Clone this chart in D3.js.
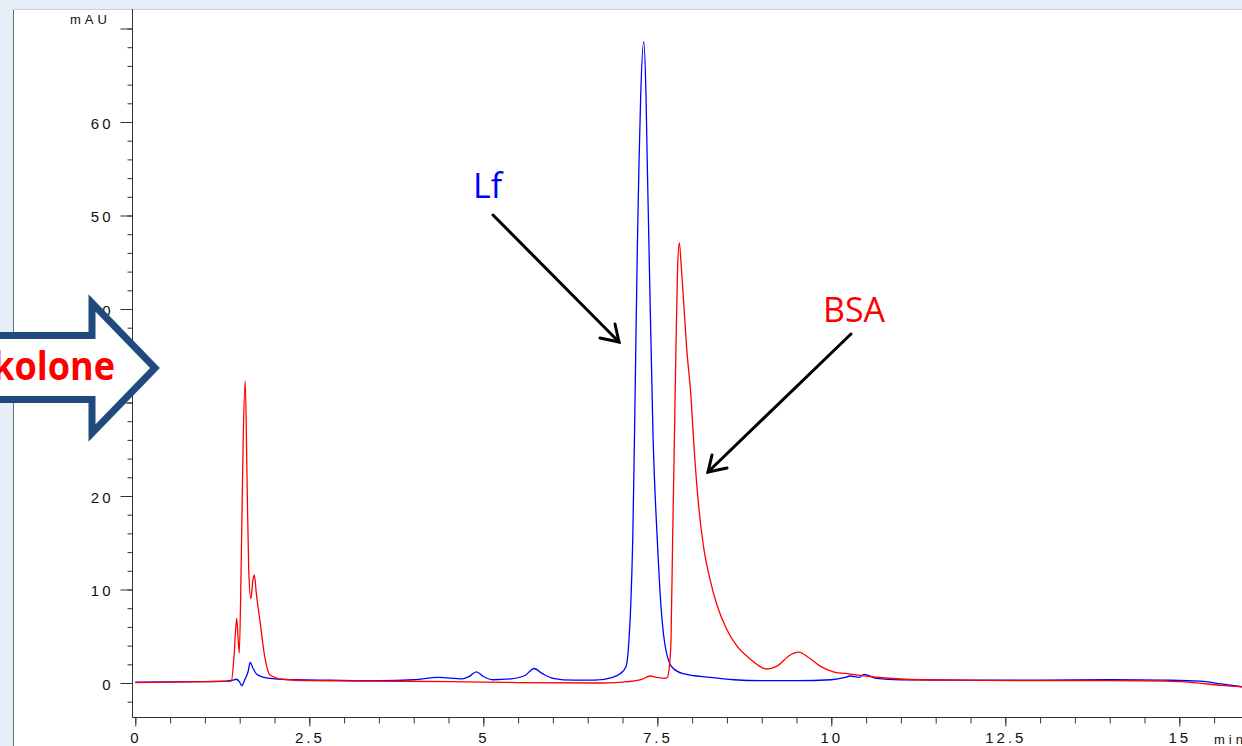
<!DOCTYPE html>
<html>
<head>
<meta charset="utf-8">
<script src="https://cdn.jsdelivr.net/npm/d3@7/dist/d3.min.js"></script>
<style>
  html, body { margin: 0; padding: 0; background: #e6eef8; overflow: hidden; }
  svg { display: block; }
</style>
</head>
<body>
<svg id="chart" width="1242" height="746"></svg>
<script>
// ---------------- DATA ----------------
const blueTime = [0, 0.5, 1.0, 1.3, 1.4, 1.45, 1.5, 1.53, 1.57, 1.62, 1.65, 1.69, 1.75, 1.85, 2.0, 2.3, 2.8, 3.5, 4.0, 4.35, 4.7, 4.8, 4.9, 5.0, 5.15, 5.4, 5.6, 5.73, 5.85, 6.0, 6.3, 6.6, 6.86, 6.96, 7.05, 7.093, 7.118, 7.147, 7.17, 7.213, 7.237, 7.261, 7.305, 7.338, 7.356, 7.381, 7.44, 7.5, 7.553, 7.6, 7.707, 7.87, 8.26, 8.6, 9.0, 9.5, 10.0, 10.2, 10.27, 10.4, 10.47, 10.65, 11.0, 12.0, 13.0, 14.0, 14.8, 15.3, 15.6, 15.9];
const blueValue = [0.1, 0.12, 0.15, 0.2, 0.3, 0.4, 0.1, -0.3, 0.3, 1.2, 2.2, 1.6, 0.9, 0.6, 0.45, 0.35, 0.3, 0.25, 0.35, 0.6, 0.45, 0.7, 1.2, 0.7, 0.35, 0.45, 0.8, 1.55, 1.0, 0.5, 0.3, 0.3, 0.6, 0.95, 1.74, 4.6, 8.2, 15.3, 25.3, 46.5, 55.6, 62.7, 68.6, 62.7, 55.6, 46.5, 26, 15.3, 8.2, 4.6, 1.74, 1.0, 0.6, 0.35, 0.25, 0.25, 0.35, 0.6, 0.75, 0.6, 0.93, 0.5, 0.35, 0.3, 0.3, 0.35, 0.3, 0.2, -0.1, -0.4];

const redTime = [0, 0.5, 1.0, 1.38, 1.42, 1.457, 1.475, 1.494, 1.52, 1.55, 1.58, 1.605, 1.63, 1.66, 1.69, 1.71, 1.74, 1.79, 1.86, 1.935, 2.12, 2.5, 3.5, 4.5, 5.5, 6.68, 7.0, 7.28, 7.395, 7.5, 7.61, 7.644, 7.673, 7.697, 7.72, 7.744, 7.764, 7.79, 7.816, 7.845, 7.874, 7.92, 7.984, 8.027, 8.10, 8.16, 8.26, 8.35, 8.5, 8.64, 8.83, 9.07, 9.22, 9.41, 9.53, 9.69, 9.84, 10.03, 10.27, 10.56, 10.99, 11.7, 13.0, 14.0, 14.8, 15.2, 15.6, 15.9];
const redValue = [0.05, 0.1, 0.15, 0.2, 3, 6.9, 5, 3.2, 12, 26, 32.3, 22, 12, 9.0, 11, 11.55, 9.5, 6.7, 2.8, 0.86, 0.4, 0.25, 0.2, 0.15, 0.05, 0.0, 0.1, 0.4, 0.75, 0.6, 0.5, 0.6, 1.74, 4.6, 15.3, 25.3, 34.2, 44, 47.1, 44.5, 41.3, 36, 30.6, 25.3, 18.5, 14.8, 11.0, 8.5, 5.7, 4.0, 2.6, 1.5, 1.8, 3.0, 3.3, 2.64, 1.8, 1.2, 0.96, 0.68, 0.43, 0.3, 0.25, 0.25, 0.2, 0.05, -0.25, -0.4];

const xMajorTicks = [0, 2.5, 5, 7.5, 10, 12.5, 15];
const xTickLabels = ["0", "2.5", "5", "7.5", "10", "12.5", "15"];
const yMajorTicks = [0, 10, 20, 30, 40, 50, 60, 70];
const yTickLabels = ["0", "10", "20", "30", "40", "50", "60", ""];
const xMinorTicks = d3.range(0, 16, 0.5);
const yMinorTicks = d3.range(-2, 72, 2);

// ---------------- LAYOUT ----------------
const svg = d3.select("#chart");
const W = 1242, H = 746;
const axisX = 132.5, axisY = 717.5;

const x = d3.scaleLinear().domain([0, 15]).range([135.3, 1179.3]);
const y = d3.scaleLinear().domain([0, 60]).range([683, 122]);

// background frame
svg.append("rect").attr("x", 0).attr("y", 0).attr("width", W).attr("height", H).attr("fill", "#e6eef8");
svg.append("rect").attr("x", 13).attr("y", 9).attr("width", W - 13).attr("height", H - 9).attr("fill", "#ffffff");
svg.append("line").attr("x1", 13.5).attr("x2", 13.5).attr("y1", 9).attr("y2", H).attr("stroke", "#6b6b6b").attr("stroke-width", 1);
svg.append("line").attr("x1", 13).attr("x2", W).attr("y1", 9.5).attr("y2", 9.5).attr("stroke", "#c9d2de").attr("stroke-width", 1);

// clip for traces
svg.append("defs").append("clipPath").attr("id", "plotclip")
  .append("rect").attr("x", axisX).attr("y", 9).attr("width", W - axisX).attr("height", axisY - 9);

const fontAxis = "'Liberation Sans', Arial, sans-serif";

// y axis minor ticks
const yMinor = svg.append("g").attr("transform", `translate(${axisX},0)`)
  .call(d3.axisLeft(y).tickValues(yMinorTicks).tickSize(5).tickFormat(""));
yMinor.select(".domain").remove();
// y axis major ticks
const yMajor = svg.append("g").attr("transform", `translate(${axisX},0)`)
  .call(d3.axisLeft(y).tickValues(yMajorTicks).tickSize(12).tickPadding(7)
    .tickFormat((d, i) => yTickLabels[i]));
yMajor.select(".domain").remove();
yMajor.selectAll("text").attr("font-family", fontAxis).attr("font-size", 15)
  .attr("letter-spacing", 3).attr("dy", "0.4em").attr("fill", "#111");

// x axis minor
const xMinor = svg.append("g").attr("transform", `translate(0,${axisY})`)
  .call(d3.axisBottom(x).tickValues(xMinorTicks).tickSize(6).tickFormat(""));
xMinor.select(".domain").remove();
const xMajor = svg.append("g").attr("transform", `translate(0,${axisY})`)
  .call(d3.axisBottom(x).tickValues(xMajorTicks).tickSize(9).tickPadding(6)
    .tickFormat((d, i) => xTickLabels[i]));
xMajor.select(".domain").remove();
xMajor.selectAll("text").attr("font-family", fontAxis).attr("font-size", 15)
  .attr("letter-spacing", 3).attr("fill", "#111");

svg.selectAll(".tick line").attr("stroke", "#333");

// axis lines
svg.append("line").attr("x1", axisX).attr("x2", axisX).attr("y1", 9).attr("y2", axisY + 0.5)
  .attr("stroke", "#333").attr("stroke-width", 1);
svg.append("line").attr("x1", axisX).attr("x2", W).attr("y1", axisY).attr("y2", axisY)
  .attr("stroke", "#333").attr("stroke-width", 1);

// units
svg.append("text").attr("x", 70).attr("y", 24).text("mAU")
  .attr("font-family", fontAxis).attr("font-size", 13).attr("letter-spacing", 4).attr("fill", "#111");
svg.append("text").attr("x", 1214).attr("y", 744).text("min")
  .attr("font-family", fontAxis).attr("font-size", 13).attr("letter-spacing", 4).attr("fill", "#111");

// ---------------- TRACES ----------------
const line = d3.line().x(d => x(d[0])).y(d => y(d[1])).curve(d3.curveMonotoneX);
const blueData = blueTime.map((t, i) => [t, blueValue[i]]);
const redData = redTime.map((t, i) => [t, redValue[i]]);

const traces = svg.append("g").attr("clip-path", "url(#plotclip)");
traces.append("path").attr("d", line(blueData)).attr("fill", "none")
  .attr("stroke", "#0000ff").attr("stroke-width", 1.3);
traces.append("path").attr("d", line(redData)).attr("fill", "none")
  .attr("stroke", "#ff0000").attr("stroke-width", 1.3);

// ---------------- ANNOTATIONS ----------------
const annoFont = "'Open Sans', 'Noto Sans', sans-serif";
svg.append("text").attr("x", 473).attr("y", 198).text("Lf")
  .attr("font-family", annoFont).attr("font-size", 34).attr("fill", "#0000ff");
svg.append("text").attr("x", 823).attr("y", 322).text("BSA")
  .attr("font-family", annoFont).attr("font-size", 34).attr("fill", "#ff0000");

function arrow(x1, y1, x2, y2, a1, a2) {
  const g = svg.append("g").attr("stroke", "#000").attr("stroke-width", 3)
    .attr("stroke-linecap", "round").attr("fill", "none");
  g.append("line").attr("x1", x1).attr("y1", y1).attr("x2", x2).attr("y2", y2);
  g.append("polyline").attr("points", `${a1[0]},${a1[1]} ${x2},${y2} ${a2[0]},${a2[1]}`)
    .attr("stroke-linejoin", "miter");
}
arrow(493, 215, 619, 342, [600, 338], [615, 324]);
arrow(851, 334, 708, 472, [712, 455], [727, 468]);

// block arrow "kolone"
svg.append("polygon")
  .attr("points", "-20,335.5 92,335.5 92,303 155,368 92,433 92,399.5 -20,399.5")
  .attr("fill", "#ffffff").attr("stroke", "#214a7c").attr("stroke-width", 7)
  .attr("stroke-linejoin", "miter").attr("stroke-miterlimit", 10);
svg.append("text").attr("transform", "translate(115,380) scale(0.9,1)")
  .attr("text-anchor", "end").text("kolone")
  .attr("font-family", annoFont).attr("font-weight", "bold").attr("font-size", 40)
  .attr("fill", "#ff0000");
</script>
</body>
</html>
